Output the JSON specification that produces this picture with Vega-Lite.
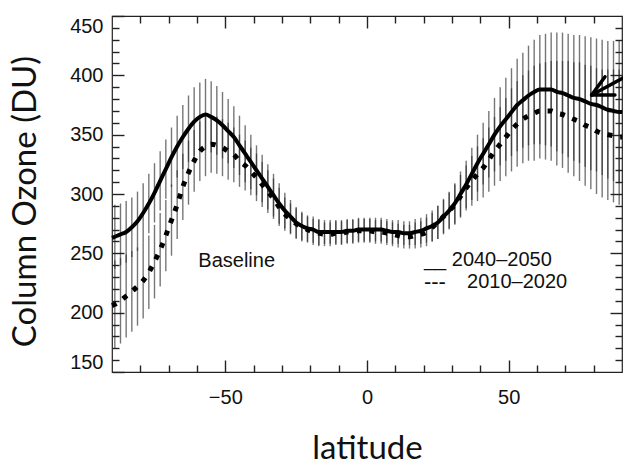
{
  "$schema": "https://vega.github.io/schema/vega-lite/v6.json",
  "width": 510,
  "height": 356,
  "autosize": {"type": "none"},
  "padding": {"left": 112, "top": 16, "right": 1, "bottom": 92},
  "background": "white",
  "config": {
    "view": {"stroke": "#222", "strokeWidth": 1.2},
    "axis": {
      "domain": false,
      "grid": false,
      "ticks": true,
      "tickColor": "#222",
      "tickWidth": 1.4,
      "labelFont": "Liberation Sans",
      "labelFontSize": 20,
      "labelColor": "#111",
      "titleFont": "Lato",
      "titleFontSize": 33,
      "titleFontWeight": "normal",
      "titleColor": "#111",
      "labelOverlap": false
    }
  },
  "datasets": {
    "oz": [
      {"lat": -90, "s": 263, "d": 206},
      {"lat": -89, "s": 264, "sl": 237, "sh": 291, "d": 207, "dl": 170, "dh": 244},
      {"lat": -87, "s": 266, "sl": 240, "sh": 292, "d": 210, "dl": 174, "dh": 246},
      {"lat": -85, "s": 268, "sl": 242, "sh": 294, "d": 214, "dl": 179, "dh": 249},
      {"lat": -83, "s": 272, "sl": 247, "sh": 297, "d": 218, "dl": 184, "dh": 252},
      {"lat": -81, "s": 277, "sl": 252, "sh": 302, "d": 222, "dl": 189, "dh": 255},
      {"lat": -79, "s": 284, "sl": 259, "sh": 309, "d": 227, "dl": 195, "dh": 259},
      {"lat": -77, "s": 292, "sl": 267, "sh": 317, "d": 234, "dl": 203, "dh": 265},
      {"lat": -75, "s": 301, "sl": 276, "sh": 326, "d": 243, "dl": 212, "dh": 274},
      {"lat": -73, "s": 311, "sl": 286, "sh": 336, "d": 253, "dl": 222, "dh": 284},
      {"lat": -71, "s": 321, "sl": 296, "sh": 346, "d": 265, "dl": 235, "dh": 295},
      {"lat": -69, "s": 331, "sl": 306, "sh": 356, "d": 278, "dl": 248, "dh": 308},
      {"lat": -67, "s": 340, "sl": 314, "sh": 366, "d": 291, "dl": 262, "dh": 320},
      {"lat": -65, "s": 348, "sl": 321, "sh": 375, "d": 306, "dl": 278, "dh": 334},
      {"lat": -63, "s": 355, "sl": 327, "sh": 383, "d": 318, "dl": 291, "dh": 345},
      {"lat": -61, "s": 361, "sl": 332, "sh": 390, "d": 328, "dl": 302, "dh": 354},
      {"lat": -59, "s": 365, "sl": 336, "sh": 394, "d": 336, "dl": 311, "dh": 361},
      {"lat": -57, "s": 367, "sl": 337, "sh": 397, "d": 340, "dl": 315, "dh": 365},
      {"lat": -55, "s": 365, "sl": 335, "sh": 395, "d": 342, "dl": 318, "dh": 366},
      {"lat": -53, "s": 362, "sl": 333, "sh": 391, "d": 341, "dl": 317, "dh": 365},
      {"lat": -51, "s": 358, "sl": 330, "sh": 386, "d": 339, "dl": 315, "dh": 363},
      {"lat": -49, "s": 353, "sl": 326, "sh": 380, "d": 336, "dl": 312, "dh": 360},
      {"lat": -47, "s": 348, "sl": 322, "sh": 374, "d": 333, "dl": 310, "dh": 356},
      {"lat": -45, "s": 341, "sl": 316, "sh": 366, "d": 328, "dl": 306, "dh": 350},
      {"lat": -43, "s": 334, "sl": 310, "sh": 358, "d": 324, "dl": 303, "dh": 345},
      {"lat": -41, "s": 327, "sl": 304, "sh": 350, "d": 319, "dl": 299, "dh": 339},
      {"lat": -39, "s": 320, "sl": 299, "sh": 341, "d": 314, "dl": 294, "dh": 334},
      {"lat": -37, "s": 313, "sl": 293, "sh": 333, "d": 308, "dl": 289, "dh": 327},
      {"lat": -35, "s": 306, "sl": 287, "sh": 325, "d": 302, "dl": 284, "dh": 320},
      {"lat": -33, "s": 299, "sl": 281, "sh": 317, "d": 296, "dl": 279, "dh": 313},
      {"lat": -31, "s": 292, "sl": 275, "sh": 309, "d": 289, "dl": 273, "dh": 305},
      {"lat": -29, "s": 286, "sl": 271, "sh": 301, "d": 283, "dl": 269, "dh": 297},
      {"lat": -27, "s": 281, "sl": 267, "sh": 295, "d": 279, "dl": 266, "dh": 292},
      {"lat": -25, "s": 276, "sl": 263, "sh": 289, "d": 275, "dl": 262, "dh": 288},
      {"lat": -23, "s": 273, "sl": 261, "sh": 285, "d": 272, "dl": 260, "dh": 284},
      {"lat": -21, "s": 271, "sl": 260, "sh": 282, "d": 270, "dl": 259, "dh": 281},
      {"lat": -19, "s": 270, "sl": 259, "sh": 281, "d": 268, "dl": 257, "dh": 279},
      {"lat": -17, "s": 268, "sl": 257, "sh": 279, "d": 267, "dl": 256, "dh": 278},
      {"lat": -15, "s": 268, "sl": 258, "sh": 278, "d": 266, "dl": 256, "dh": 276},
      {"lat": -13, "s": 268, "sl": 258, "sh": 278, "d": 266, "dl": 256, "dh": 276},
      {"lat": -11, "s": 268, "sl": 258, "sh": 278, "d": 267, "dl": 257, "dh": 277},
      {"lat": -9, "s": 268, "sl": 258, "sh": 278, "d": 267, "dl": 257, "dh": 277},
      {"lat": -7, "s": 269, "sl": 259, "sh": 279, "d": 268, "dl": 258, "dh": 278},
      {"lat": -5, "s": 269, "sl": 259, "sh": 279, "d": 268, "dl": 258, "dh": 278},
      {"lat": -3, "s": 270, "sl": 260, "sh": 280, "d": 269, "dl": 259, "dh": 279},
      {"lat": -1, "s": 270, "sl": 260, "sh": 280, "d": 269, "dl": 259, "dh": 279},
      {"lat": 1, "s": 270, "sl": 260, "sh": 280, "d": 269, "dl": 259, "dh": 279},
      {"lat": 3, "s": 270, "sl": 260, "sh": 280, "d": 268, "dl": 258, "dh": 278},
      {"lat": 5, "s": 270, "sl": 260, "sh": 280, "d": 268, "dl": 258, "dh": 278},
      {"lat": 7, "s": 269, "sl": 259, "sh": 279, "d": 267, "dl": 257, "dh": 277},
      {"lat": 9, "s": 268, "sl": 258, "sh": 278, "d": 266, "dl": 256, "dh": 276},
      {"lat": 11, "s": 268, "sl": 258, "sh": 278, "d": 265, "dl": 255, "dh": 275},
      {"lat": 13, "s": 267, "sl": 257, "sh": 277, "d": 264, "dl": 254, "dh": 274},
      {"lat": 15, "s": 267, "sl": 257, "sh": 277, "d": 264, "dl": 254, "dh": 274},
      {"lat": 17, "s": 268, "sl": 257, "sh": 279, "d": 265, "dl": 254, "dh": 276},
      {"lat": 19, "s": 269, "sl": 258, "sh": 280, "d": 266, "dl": 255, "dh": 277},
      {"lat": 21, "s": 271, "sl": 259, "sh": 283, "d": 268, "dl": 256, "dh": 280},
      {"lat": 23, "s": 273, "sl": 260, "sh": 286, "d": 272, "dl": 260, "dh": 284},
      {"lat": 25, "s": 276, "sl": 262, "sh": 290, "d": 276, "dl": 262, "dh": 290},
      {"lat": 27, "s": 281, "sl": 266, "sh": 296, "d": 281, "dl": 267, "dh": 295},
      {"lat": 29, "s": 286, "sl": 270, "sh": 302, "d": 286, "dl": 271, "dh": 301},
      {"lat": 31, "s": 292, "sl": 275, "sh": 309, "d": 291, "dl": 274, "dh": 308},
      {"lat": 33, "s": 300, "sl": 281, "sh": 319, "d": 298, "dl": 280, "dh": 316},
      {"lat": 35, "s": 308, "sl": 288, "sh": 328, "d": 305, "dl": 286, "dh": 324},
      {"lat": 37, "s": 317, "sl": 295, "sh": 339, "d": 311, "dl": 290, "dh": 332},
      {"lat": 39, "s": 326, "sl": 302, "sh": 350, "d": 317, "dl": 294, "dh": 340},
      {"lat": 41, "s": 334, "sl": 308, "sh": 360, "d": 322, "dl": 297, "dh": 347},
      {"lat": 43, "s": 342, "sl": 314, "sh": 370, "d": 329, "dl": 302, "dh": 356},
      {"lat": 45, "s": 350, "sl": 319, "sh": 381, "d": 336, "dl": 307, "dh": 365},
      {"lat": 47, "s": 357, "sl": 324, "sh": 390, "d": 342, "dl": 311, "dh": 373},
      {"lat": 49, "s": 363, "sl": 328, "sh": 398, "d": 348, "dl": 315, "dh": 381},
      {"lat": 51, "s": 369, "sl": 332, "sh": 406, "d": 354, "dl": 319, "dh": 389},
      {"lat": 53, "s": 375, "sl": 336, "sh": 414, "d": 359, "dl": 323, "dh": 395},
      {"lat": 55, "s": 379, "sl": 339, "sh": 419, "d": 363, "dl": 326, "dh": 400},
      {"lat": 57, "s": 383, "sl": 341, "sh": 425, "d": 366, "dl": 328, "dh": 404},
      {"lat": 59, "s": 386, "sl": 342, "sh": 430, "d": 368, "dl": 328, "dh": 408},
      {"lat": 61, "s": 388, "sl": 342, "sh": 434, "d": 370, "dl": 330, "dh": 410},
      {"lat": 63, "s": 388, "sl": 341, "sh": 435, "d": 370, "dl": 329, "dh": 411},
      {"lat": 65, "s": 388, "sl": 340, "sh": 436, "d": 370, "dl": 328, "dh": 412},
      {"lat": 67, "s": 386, "sl": 336, "sh": 436, "d": 368, "dl": 324, "dh": 412},
      {"lat": 69, "s": 385, "sl": 334, "sh": 436, "d": 367, "dl": 322, "dh": 412},
      {"lat": 71, "s": 383, "sl": 331, "sh": 435, "d": 365, "dl": 318, "dh": 412},
      {"lat": 73, "s": 381, "sl": 328, "sh": 434, "d": 363, "dl": 315, "dh": 411},
      {"lat": 75, "s": 380, "sl": 326, "sh": 434, "d": 361, "dl": 311, "dh": 411},
      {"lat": 77, "s": 378, "sl": 323, "sh": 433, "d": 358, "dl": 307, "dh": 409},
      {"lat": 79, "s": 376, "sl": 320, "sh": 432, "d": 356, "dl": 304, "dh": 408},
      {"lat": 81, "s": 375, "sl": 319, "sh": 431, "d": 353, "dl": 300, "dh": 406},
      {"lat": 83, "s": 373, "sl": 316, "sh": 430, "d": 351, "dl": 297, "dh": 405},
      {"lat": 85, "s": 371, "sl": 313, "sh": 429, "d": 350, "dl": 295, "dh": 405},
      {"lat": 87, "s": 370, "sl": 311, "sh": 429, "d": 349, "dl": 293, "dh": 405},
      {"lat": 89, "s": 369, "sl": 309, "sh": 429, "d": 348, "dl": 291, "dh": 405},
      {"lat": 90, "s": 369, "d": 348}
    ]
  },
  "resolve": {"axis": {"x": "independent", "y": "independent"}},
  "layer": [
    {
      "data": {"name": "oz"},
      "mark": {"type": "rule", "color": "#222", "opacity": 0.62, "strokeWidth": 1.4},
      "encoding": {
        "x": {
          "field": "lat", "type": "quantitative",
          "scale": {"domain": [-90, 90], "nice": false, "zero": false},
          "axis": {
            "orient": "bottom",
            "values": [-50, 0, 50],
            "offset": -12,
            "tickSize": 12,
            "labelPadding": 15,
            "title": "latitude",
            "titleY": 98,
            "titleBaseline": "alphabetic"
          }
        },
        "y": {
          "field": "sl", "type": "quantitative",
          "scale": {"domain": [150, 450], "nice": false, "zero": false},
          "axis": {
            "orient": "left",
            "values": [150, 200, 250, 300, 350, 400, 450],
            "offset": -12,
            "tickSize": 12,
            "labelPadding": 9,
            "labelFlush": true,
            "title": "Column Ozone (DU)",
            "titleX": -99,
            "titleY": 185,
            "titleBaseline": "middle"
          }
        },
        "y2": {"field": "sh"}
      }
    },
    {
      "data": {"name": "oz"},
      "mark": {"type": "rule", "color": "#222", "opacity": 0.62, "strokeWidth": 1.4},
      "encoding": {
        "x": {
          "field": "lat", "type": "quantitative",
          "scale": {"domain": [-90, 90], "nice": false, "zero": false},
          "axis": {"orient": "top", "values": [-50, 0, 50], "offset": -12, "tickSize": 12, "labels": false, "title": null}
        },
        "y": {
          "field": "dl", "type": "quantitative",
          "scale": {"domain": [150, 450], "nice": false, "zero": false},
          "axis": {"orient": "right", "values": [200, 250, 300, 350, 400], "offset": -12, "tickSize": 12, "labels": false, "title": null}
        },
        "y2": {"field": "dh"}
      }
    },
    {
      "data": {"name": "oz"},
      "mark": {"type": "line", "color": "#000", "strokeWidth": 4, "interpolate": "monotone"},
      "encoding": {
        "x": {
          "field": "lat", "type": "quantitative",
          "scale": {"domain": [-90, 90], "nice": false, "zero": false},
          "axis": {"orient": "bottom", "values": [-80, -70, -60, -40, -30, -20, -10, 10, 20, 30, 40, 60, 70, 80], "offset": -7, "tickSize": 7, "labels": false, "title": null}
        },
        "y": {
          "field": "s", "type": "quantitative",
          "scale": {"domain": [150, 450], "nice": false, "zero": false},
          "axis": {"orient": "left", "values": [160, 170, 180, 190, 210, 220, 230, 240, 260, 270, 280, 290, 310, 320, 330, 340, 360, 370, 380, 390, 410, 420, 430, 440], "offset": -7, "tickSize": 7, "labels": false, "title": null}
        }
      }
    },
    {
      "data": {"name": "oz"},
      "mark": {"type": "line", "color": "#000", "strokeWidth": 5, "strokeDash": [5, 8], "interpolate": "monotone"},
      "encoding": {
        "x": {
          "field": "lat", "type": "quantitative",
          "scale": {"domain": [-90, 90], "nice": false, "zero": false},
          "axis": {"orient": "top", "values": [-80, -70, -60, -40, -30, -20, -10, 10, 20, 30, 40, 60, 70, 80], "offset": -7, "tickSize": 7, "labels": false, "title": null}
        },
        "y": {
          "field": "d", "type": "quantitative",
          "scale": {"domain": [150, 450], "nice": false, "zero": false},
          "axis": {"orient": "right", "values": [160, 170, 180, 190, 210, 220, 230, 240, 260, 270, 280, 290, 310, 320, 330, 340, 360, 370, 380, 390, 410, 420, 430, 440], "offset": -7, "tickSize": 7, "labels": false, "title": null}
        }
      }
    },
    {
      "data": {"values": [{"label": "Baseline", "lat": -46, "v": 238.7}]},
      "mark": {"type": "text", "font": "Liberation Sans", "fontSize": 20, "align": "center", "baseline": "alphabetic", "color": "#111"},
      "encoding": {
        "x": {"field": "lat", "type": "quantitative", "scale": {"domain": [-90, 90], "nice": false, "zero": false}, "axis": null},
        "y": {"field": "v", "type": "quantitative", "scale": {"domain": [150, 450], "nice": false, "zero": false}, "axis": null},
        "text": {"field": "label"}
      }
    },
    {
      "data": {"values": [
        {"label": "__ 2040–2050", "lat": 20.1, "v": 239.5},
        {"label": "2010–2020", "lat": 35.3, "v": 220.5}
      ]},
      "mark": {"type": "text", "font": "Liberation Sans", "fontSize": 20, "align": "left", "baseline": "alphabetic", "color": "#111"},
      "encoding": {
        "x": {"field": "lat", "type": "quantitative", "scale": {"domain": [-90, 90], "nice": false, "zero": false}, "axis": null},
        "y": {"field": "v", "type": "quantitative", "scale": {"domain": [150, 450], "nice": false, "zero": false}, "axis": null},
        "text": {"field": "label"}
      }
    },
    {
      "data": {"values": [{"label": "---", "lat": 20.1, "v": 219.8}]},
      "mark": {"type": "text", "font": "Liberation Sans", "fontSize": 22, "align": "left", "baseline": "alphabetic", "color": "#111"},
      "encoding": {
        "x": {"field": "lat", "type": "quantitative", "scale": {"domain": [-90, 90], "nice": false, "zero": false}, "axis": null},
        "y": {"field": "v", "type": "quantitative", "scale": {"domain": [150, 450], "nice": false, "zero": false}, "axis": null},
        "text": {"field": "label"}
      }
    },
    {
      "data": {"values": [
        {"x": 79.3, "y": 383.4, "x2": 92.8, "y2": 401},
        {"x": 79.3, "y": 383.4, "x2": 84, "y2": 398.8},
        {"x": 79.3, "y": 383.4, "x2": 87.5, "y2": 383.4}
      ]},
      "mark": {"type": "rule", "color": "#000", "strokeWidth": 3.5, "strokeCap": "round"},
      "encoding": {
        "x": {"field": "x", "type": "quantitative", "scale": {"domain": [-90, 90], "nice": false, "zero": false}, "axis": null},
        "y": {"field": "y", "type": "quantitative", "scale": {"domain": [150, 450], "nice": false, "zero": false}, "axis": null},
        "x2": {"field": "x2"},
        "y2": {"field": "y2"}
      }
    }
  ]
}
